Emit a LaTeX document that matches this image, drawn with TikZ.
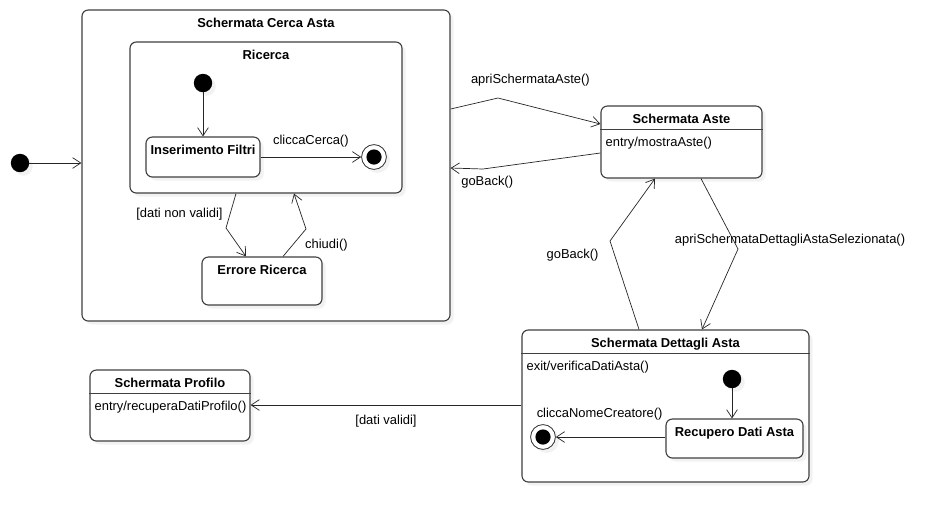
\documentclass[tikz,border=0pt]{standalone}
\usepackage{fontspec}
\setmainfont{Liberation Sans}
\usetikzlibrary{arrows.meta,shadows}
\begin{document}
\begin{tikzpicture}[x=0.025cm, y=-0.025cm, font=\fontsize{9.2pt}{11pt}\selectfont,
	>={Straight Barb[length=5.8pt,width=7.6pt]},
	shade/.style={drop shadow={shadow xshift=2.5pt, shadow yshift=-2.5pt, opacity=0.1}},
	state/.style={draw=black!75, line width=0.8pt, fill=white, rounded corners=1.6mm, shade},
	title/.style={anchor=north, inner sep=0pt, yshift=-6.2pt, font=\fontsize{9.2pt}{11pt}\selectfont\bfseries},
	entry/.style={anchor=north west, inner sep=0pt, xshift=3.5pt, yshift=-22.3pt},
	init/.style={circle, fill=black, inner sep=0pt, minimum size=4.6mm, shade},
	final/.style={circle, draw=black!80, fill=white, line width=0.6pt, inner sep=0pt, minimum size=6.2mm, shade, path picture={\fill[black] (path picture bounding box.center) circle (1.9mm);}},
	tr/.style={->, draw=black!85, line width=0.5pt},
	lbl/.style={inner sep=1pt}]
	\useasboundingbox (0,0) rectangle (944,522);
	\node[init] (i0) at (20,163) {};
	\node[state, minimum width=9.2cm, minimum height=7.775cm, label={[title]north:Schermata Cerca Asta}] (cerca) at (266,165.5) {};
	\node[state, minimum width=6.8cm, minimum height=3.775cm, label={[title]north:Ricerca}] (ricerca) at (266,117.5) {};
	\node[init] (i1) at (203,83) {};
	\node[state, minimum width=2.85cm, minimum height=1cm, label={[title]north:Inserimento Filtri}] (filtri) at (203,157) {};
	\node[final] (f1) at (374,157) {};
	\node[state, minimum width=3cm, minimum height=1.2cm, label={[title]north:Errore Ricerca}] (errore) at (262,281) {};
	\node[state, minimum width=4.025cm, minimum height=1.8cm, label={[title]north:Schermata Aste}, label={[entry]north west:entry/mostraAste()}] (aste) at (681.5,142) {};
	\node[state, minimum width=7.175cm, minimum height=3.8cm, label={[title]north:Schermata Dettagli Asta}, label={[entry]north west:exit/verificaDatiAsta()}] (dettagli) at (665.5,406) {};
	\node[init] (i2) at (732,379) {};
	\node[state, minimum width=3.425cm, minimum height=0.975cm, label={[title]north:Recupero Dati Asta}] (recupero) at (734.5,438.5) {};
	\node[final] (f2) at (543,437) {};
	\node[state, minimum width=4cm, minimum height=1.775cm, label={[title]north:Schermata Profilo}, label={[entry]north west:entry/recuperaDatiProfilo()}] (profilo) at (170,405.5) {};
	\foreach \s in {aste,dettagli,profilo}
		\draw[draw=black!75, line width=0.8pt] ([yshift=-17pt]\s.north west) -- ([yshift=-17pt]\s.north east);
	\draw[tr] (i0) -- (i0 -| cerca.west);
	\draw[tr] (i1) -- (filtri);
	\draw[tr] (filtri) -- node[lbl, above=5.8pt] {cliccaCerca()} (f1);
	\draw[tr] (ricerca.south -| 236,0) -- node[lbl, pos=0.6, left=4pt] {[dati non validi]} (226,228) -- (errore.north -| 246,0);
	\draw[tr] (errore.north -| 283,0) -- node[lbl, pos=0.4, right=8pt] {chiudi()} (306,229) -- (ricerca.south -| 294,0);
	\draw[tr] (cerca.east |- 0,109) -- (498,98) node[lbl, above=7.4pt, xshift=23pt] {apriSchermataAste()} -- (aste.west |- 0,124);
	\draw[tr] (aste.west |- 0,153) -- (483,169) node[lbl, below=3.7pt, xshift=3pt] {goBack()} -- (cerca.east |- 0,168);
	\draw[tr] (dettagli.north -| 639,0) -- (610,241) node[lbl, left=7pt, yshift=-10pt] {goBack()} -- (aste.south -| 655,0);
	\draw[tr] (aste.south -| 701,0) -- (738,249) node[lbl, xshift=37pt, yshift=6.5pt] {apriSchermataDettagliAstaSelezionata()} -- (dettagli.north -| 702,0);
	\draw[tr] (dettagli.west |- 0,405) -- node[lbl, below=5.7pt] {[dati validi]} (profilo.east |- 0,405);
	\draw[tr] (i2) -- (i2 |- recupero.north);
	\draw[tr] (recupero.west |- f2) -- node[lbl, pos=0.6, above=10.7pt] {cliccaNomeCreatore()} (f2);
\end{tikzpicture}
\end{document}
